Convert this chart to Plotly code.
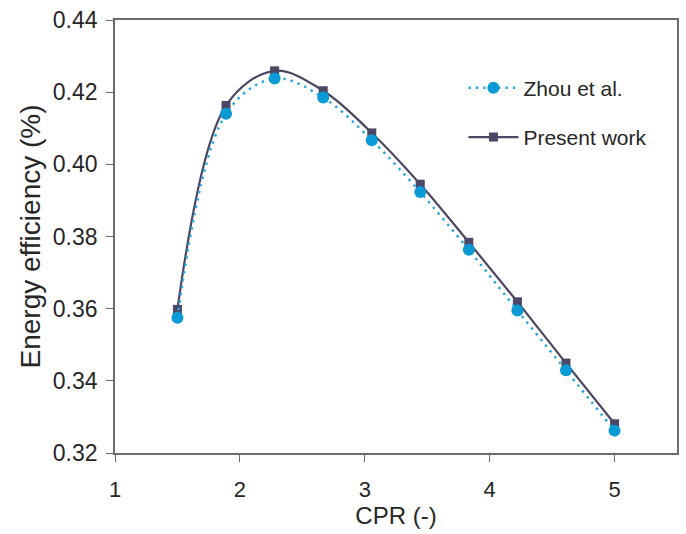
import plotly.graph_objects as go

# Compressor pressure ratio (CPR) sample points
cpr = [1.5, 1.889, 2.278, 2.667, 3.056, 3.444, 3.833, 4.222, 4.611, 5.0]

# Energy efficiency for each source
zhou = [0.3575, 0.4140, 0.4238, 0.4185, 0.4067, 0.3923, 0.3763, 0.3595, 0.3429, 0.3262]
present = [0.3598, 0.4163, 0.4259, 0.4204, 0.4087, 0.3945, 0.3784, 0.3619, 0.3449, 0.3281]

x_ticks = [1, 2, 3, 4, 5]
y_ticks = [0.32, 0.34, 0.36, 0.38, 0.40, 0.42, 0.44]

FONT = "Liberation Sans, Arial, sans-serif"
AXIS_COLOR = "#6b6b6b"
TEXT_COLOR = "#262626"

fig = go.Figure()

fig.add_trace(go.Scatter(
    x=cpr, y=present, name="Present work", mode="lines+markers",
    line=dict(color="#4b4763", width=2.2, shape="spline", smoothing=1),
    marker=dict(symbol="square", size=9, color="#4b4766"),
    legendgroup="b", legendrank=2,
))
fig.add_trace(go.Scatter(
    x=cpr, y=zhou, name="Zhou et al.", mode="lines+markers",
    line=dict(color="#22a6e0", width=2.4, dash="2.4px,5px", shape="spline", smoothing=1),
    marker=dict(symbol="circle", size=12, color="#0a9ad6"),
    legendgroup="a", legendrank=1,
))

fig.update_layout(
    width=686, height=534,
    margin=dict(l=115, r=7, t=16, b=81),
    paper_bgcolor="white", plot_bgcolor="white",
    font=dict(family=FONT, color=TEXT_COLOR),
    legend=dict(
        x=0.62, y=0.89, xanchor="left", yanchor="top",
        font=dict(size=21, family=FONT, color=TEXT_COLOR),
        traceorder="grouped", tracegroupgap=19,
        bgcolor="rgba(0,0,0,0)", itemwidth=50,
    ),
    showlegend=True,
)

fig.update_xaxes(
    range=[1, 5.5], tickvals=x_ticks, ticktext=[str(v) for v in x_ticks],
    showgrid=False, zeroline=False,
    showline=True, linecolor=AXIS_COLOR, linewidth=1.6, mirror=True,
    ticks="outside", ticklen=7, tickwidth=1.4, tickcolor=AXIS_COLOR,
    ticklabelstandoff=9,
    tickfont=dict(size=22, family=FONT, color=TEXT_COLOR),
    title=dict(text="CPR (-)", font=dict(size=24, family=FONT, color=TEXT_COLOR), standoff=2),
)
fig.update_yaxes(
    range=[0.32, 0.44], tickvals=y_ticks, ticktext=[f"{v:.2f}" for v in y_ticks],
    showgrid=False, zeroline=False,
    showline=True, linecolor=AXIS_COLOR, linewidth=1.6, mirror=True,
    ticks="outside", ticklen=7, tickwidth=1.4, tickcolor=AXIS_COLOR,
    ticklabelstandoff=4,
    tickfont=dict(size=23, family=FONT, color=TEXT_COLOR),
    title=dict(text="Energy efficiency (%)", font=dict(size=28, family=FONT, color=TEXT_COLOR), standoff=4),
)

fig.write_html("out.html")
